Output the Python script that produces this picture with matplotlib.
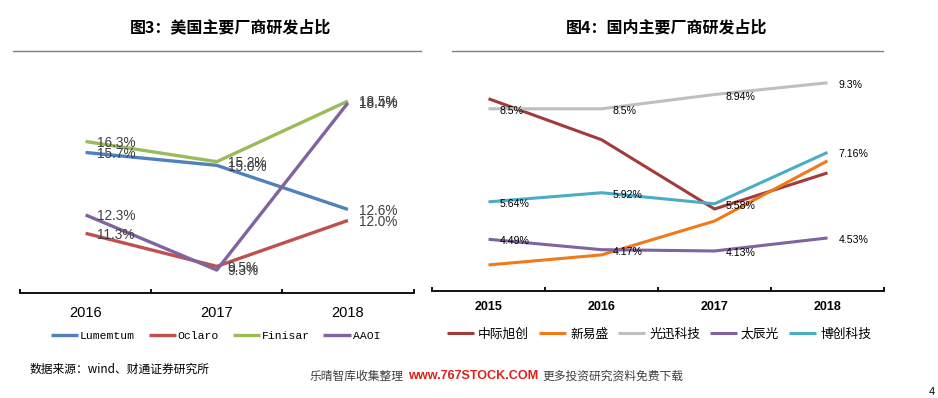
import matplotlib
matplotlib.use("Agg")
import matplotlib.pyplot as plt
from matplotlib.lines import Line2D

plt.rcParams['font.family'] = ['Liberation Sans', 'Noto Sans CJK SC']

# ---------------- data ----------------
us_years = ['2016', '2017', '2018']
us_names = ['Lumemtum', 'Oclaro', 'Finisar', 'AAOI']
lumentum = [15.7, 15.0, 12.6]
oclaro = [11.3, 9.5, 12.0]
finisar = [16.3, 15.2, 18.5]
aaoi = [12.3, 9.3, 18.4]
us_series = [lumentum, oclaro, finisar, aaoi]
us_colors = ['#4F81BD', '#C0504D', '#9BBB59', '#8064A2']

cn_years = ['2015', '2016', '2017', '2018']
cn_names = ['中际旭创', '新易盛', '光迅科技', '太辰光', '博创科技']
zhongji = [8.81, 7.55, 5.42, 6.53]
xinyisheng = [3.70, 4.01, 5.05, 6.90]
guangxun = [8.5, 8.5, 8.94, 9.3]
taichenguang = [4.49, 4.17, 4.13, 4.53]
bochuang = [5.64, 5.92, 5.58, 7.16]
cn_series = [zhongji, xinyisheng, guangxun, taichenguang, bochuang]
cn_labeled = [False, False, True, True, True]
cn_colors = ['#A23B3B', '#EE7A1A', '#BFBFBF', '#8064A2', '#4BACC6']

W, H = 938, 398
fig = plt.figure(figsize=(W / 100, H / 100), dpi=100)


def px_axes(left, top, right, bottom):
    return fig.add_axes([left / W, 1 - bottom / H, (right - left) / W, (bottom - top) / H])


def style_axis(ax, n, label_size, pad, weight='normal'):
    for s in ['top', 'left', 'right']:
        ax.spines[s].set_visible(False)
    ax.spines['bottom'].set_linewidth(1.3)
    ax.spines['bottom'].set_color('black')
    ax.set_yticks([])
    ax.set_xlim(-0.5, n - 0.5)
    ax.set_xticks(range(n))
    ax.set_xticks([i - 0.5 for i in range(n + 1)], minor=True)
    ax.tick_params(axis='x', which='major', length=0, pad=pad, labelsize=label_size)
    ax.tick_params(axis='x', which='minor', direction='in', length=3.2, width=1.3, color='black')
    for t in ax.get_xticklabels():
        t.set_fontweight(weight)
    ax.patch.set_alpha(0)


# ---------------- left chart ----------------
ax1 = px_axes(20, 82.7, 413.5, 293)
x1 = list(range(len(us_years)))
for vals, name, c in zip(us_series, us_names, us_colors):
    ax1.plot(x1, vals, color=c, lw=2.4, label=name, solid_capstyle='butt')
    for xi, v in zip(x1, vals):
        ax1.annotate(f'{v:.1f}%', (xi, v), xytext=(8, -1), textcoords='offset points',
                     ha='left', va='center', fontsize=9.8, color='#404040')
ax1.set_ylim(8.05, 19.5)
ax1.set_xticks(x1)
ax1.set_xticklabels(us_years)
style_axis(ax1, 3, 10.5, 9.5)
ax1.legend(loc='center', bbox_to_anchor=(215.5 / W, 1 - 336 / H),
           bbox_transform=fig.transFigure, ncol=4, frameon=False,
           prop={'family': 'Liberation Mono', 'size': 8.2},
           handlelength=2.4, handletextpad=0.15, columnspacing=1.2,
           borderpad=0, borderaxespad=0)

# ---------------- right chart ----------------
ax2 = px_axes(432, 60, 884, 291)
x2 = list(range(len(cn_years)))
for vals, name, c, lab in zip(cn_series, cn_names, cn_colors, cn_labeled):
    ax2.plot(x2, vals, color=c, lw=2.2, label=name, solid_capstyle='butt')
    if lab:
        for xi, v in zip(x2, vals):
            ax2.annotate(f'{v:g}%', (xi, v), xytext=(8.2, -1.5), textcoords='offset points',
                         ha='left', va='center', fontsize=7.6, color='black')
ax2.set_ylim(2.9, 10.0)
ax2.set_xticks(x2)
ax2.set_xticklabels(cn_years)
style_axis(ax2, 4, 9, 7, weight='bold')
ax2.legend(loc='center', bbox_to_anchor=(659 / W, 1 - 334 / H),
           bbox_transform=fig.transFigure, ncol=5, frameon=False,
           prop={'family': ['Noto Sans CJK SC', 'DejaVu Sans'], 'size': 9.2},
           handlelength=2.15, handletextpad=0.3, columnspacing=0.75,
           borderpad=0, borderaxespad=0)

# ---------------- titles, rules, footer ----------------
cjk = ['Noto Sans CJK SC', 'DejaVu Sans']
fig.text(231 / W, 1 - 27 / H, '图3：美国主要厂商研发占比', ha='center', va='center',
         fontsize=11.5, fontweight='bold', family=cjk, color='black')
fig.text(667 / W, 1 - 27 / H, '图4：国内主要厂商研发占比', ha='center', va='center',
         fontsize=11.5, fontweight='bold', family=cjk, color='black')
fig.add_artist(Line2D([13 / W, 421 / W], [1 - 51 / H] * 2, color='#7F7F7F', lw=1.0))
fig.add_artist(Line2D([452 / W, 883 / W], [1 - 51 / H] * 2, color='#7F7F7F', lw=1.0))

fig.text(30 / W, 1 - 369 / H, '数据来源：wind、财通证券研究所', ha='left', va='center',
         fontsize=8.5, family=cjk, color='black')

fig.text(310 / W, 1 - 376 / H, '乐晴智库收集整理', ha='left', va='center',
         fontsize=8.5, family=cjk, color='#404040')
fig.text(408 / W, 1 - 376 / H, 'www.767STOCK.COM', ha='left', va='center',
         fontsize=9.1, fontweight='bold', color='#E0201B')
fig.text(542 / W, 1 - 376 / H, '更多投资研究资料免费下载', ha='left', va='center',
         fontsize=8.5, family=cjk, color='#404040')
fig.text(932 / W, 1 - 392 / H, '4', ha='center', va='center', fontsize=8, color='black')

fig.savefig('out.png', dpi=100)
